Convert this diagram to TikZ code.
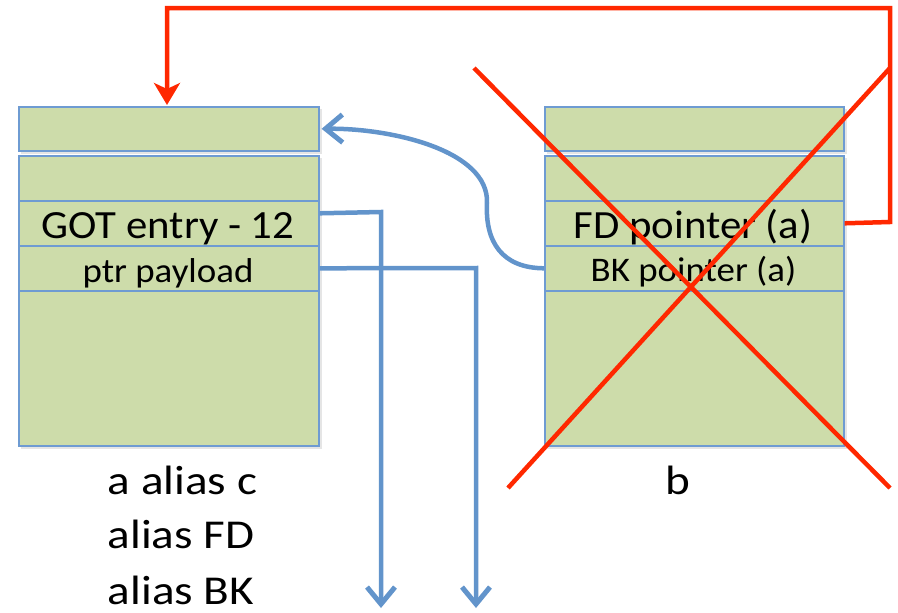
\documentclass[tikz,border=0pt]{standalone}
\usepackage{fontspec}
\setmainfont{Carlito}
\usetikzlibrary{arrows.meta}
\definecolor{cellfill}{RGB}{205,220,170}
\definecolor{cellline}{RGB}{110,155,210}
\definecolor{linkblue}{RGB}{98,148,203}
\definecolor{xred}{RGB}{255,40,0}
% slightly widened lettering
\newcommand\widetext[2][1.07]{\scalebox{#1}[1]{#2}}
\tikzset{
  cell/.style={draw=cellline, line width=1.6pt, fill=cellfill, minimum width=300pt, inner sep=0pt, anchor=north west},
  shadowbox/.style={fill=black!10},
  bigtxt/.style={font=\fontsize{40}{40}\selectfont, inner sep=0pt, anchor=base},
  smalltxt/.style={font=\fontsize{34.5}{34.5}\selectfont, inner sep=0pt, anchor=base},
  caption/.style={font=\fontsize{41}{41}\selectfont, inner sep=0pt, anchor=base},
  bluelink/.style={draw=linkblue, line width=4.5pt},
  redlink/.style={draw=xred, line width=4.5pt},
  openhead/.style={-{Straight Barb[length=17pt,width=28pt,line width=5pt]}},
}
\begin{document}
\begin{tikzpicture}[x=1pt,y=-1pt]
\useasboundingbox (0,0) rectangle (898,613);
% soft shadow under the chunks
\fill[shadowbox] (21,109) rectangle (322,154);
\fill[shadowbox] (21,158) rectangle (322,449);
\fill[shadowbox] (547,109) rectangle (847,154);
\fill[shadowbox] (547,158) rectangle (847,449);
% chunk a
\node[cell, minimum height=44pt] (lt) at (18,106) {};
\node[cell, minimum height=45pt] (l1) at (18,155) {};
\node[cell, minimum height=45pt] (lgot) at (18,200) {};
\node[cell, minimum height=45pt] (lptr) at (18,245) {};
\node[cell, minimum height=155pt] (lbig) at (18,290) {};
\node[bigtxt] (tgot) at (168,238) {\widetext{GOT entry - 12}};
\node[smalltxt] (tptr) at (168,282) {\widetext{ptr payload}};
% chunk b
\node[cell, minimum height=44pt, minimum width=299pt] (rt) at (544,106) {};
\node[cell, minimum height=45pt, minimum width=299pt] (r1) at (544,155) {};
\node[cell, minimum height=45pt, minimum width=299pt] (rfd) at (544,200) {};
\node[cell, minimum height=45pt, minimum width=299pt] (rbk) at (544,245) {};
\node[cell, minimum height=155pt, minimum width=299pt] (rbig) at (544,290) {};
\node[bigtxt] (tfd) at (693,238) {\widetext{FD pointer (a)}};
\node[smalltxt] (tbk) at (693.5,281) {\widetext{BK pointer (a)}};
% captions
\node[caption] (ca) at (182.5,494) {\widetext[1.15]{a alias c}};
\node[caption] (cfd) at (181,548) {\widetext[1.15]{alias FD}};
\node[caption] (cbk) at (181,604) {\widetext[1.15]{alias BK}};
\node[caption] (cb) at (678,494) {\widetext[1.15]{b}};
% free ends of the links
\coordinate (gotend) at (381,608);
\coordinate (ptrend) at (476,608);
\coordinate (topin) at (167,105);
% blue links
\draw[bluelink, openhead] ([yshift=10pt]lgot.east) -- (381,212) -- (gotend);
\draw[bluelink, openhead] (lptr.east) -- (476,268) -- (ptrend);
\draw[bluelink, openhead] (rbk.west) .. controls (502,268) and (485,242) .. (487,203)
  .. controls (489,150) and (390,128) .. ([xshift=2pt]lt.east);
% red loop from FD of b back to the top of a
\draw[redlink, -{Stealth[length=22pt,width=26pt,inset=6pt]}] (rfd.east) -- (890,222) -- (890,8) -- (167,8) -- (topin);
% b is crossed out
\coordinate (xa) at (474,68);
\coordinate (xb) at (890,488);
\coordinate (xc) at (890,68);
\coordinate (xd) at (508,488);
\draw[redlink] (xa) -- (xb);
\draw[redlink] (xc) -- (xd);
\end{tikzpicture}
\end{document}
